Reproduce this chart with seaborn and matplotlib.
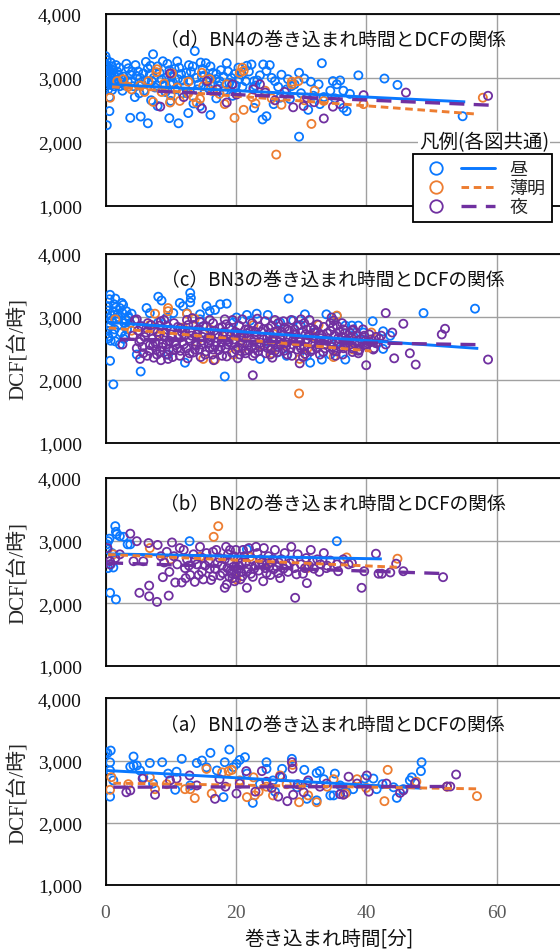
import matplotlib
matplotlib.use("Agg")
import matplotlib.pyplot as plt
from matplotlib.lines import Line2D
from matplotlib.legend_handler import HandlerTuple
from matplotlib.ticker import FuncFormatter, FixedLocator
import seaborn as sns
import pandas as pd

sns.set_style("white")
plt.rcParams["font.family"] = ["Noto Sans CJK JP", "DejaVu Sans"]

# ---------------- data ----------------
SERIES = ["昼", "薄明", "夜"]
COLORS = {"昼": "#0a78ff", "薄明": "#ED7D31", "夜": "#7030A0"}
PANEL_KEYS = ["d", "c", "b", "a"]
PANEL_TITLES = {
    "d": "（d）BN4の巻き込まれ時間とDCFの関係",
    "c": "（c）BN3の巻き込まれ時間とDCFの関係",
    "b": "（b）BN2の巻き込まれ時間とDCFの関係",
    "a": "（a）BN1の巻き込まれ時間とDCFの関係",
}
X_TICKS = [0, 20, 40, 60]
Y_TICKS = [1000, 2000, 3000, 4000]
X_LABEL = "巻き込まれ時間[分]"
Y_LABEL = "DCF[台/時]"
LEGEND_TITLE = "凡例(各図共通)"

# panel (d) BN4
D_DAY = [(0.0,3340),(0.2,3280),(0.1,3210),(0.4,3150),(0.0,3100),(0.3,3060),(0.6,3020),(0.1,2980),
         (0.5,2940),(0.2,2900),(0.0,2860),(0.4,2820),(0.8,3240),(1.0,3180),(1.2,3120),(0.9,3080),
         (1.4,3030),(1.1,2990),(0.7,2950),(1.5,2900),(1.3,2870),(1.8,3100),(2.0,3050),(1.7,2960),
         (2.3,3000),(2.5,2930),(0.6,2700),(0.6,2480),(0.2,2260),(1.0,2810),(2.1,3160),(2.8,3020),
         (3.0,2880),(2.6,2800),
         (3.5,3150),(3.8,3050),(4.0,2950),(4.3,2870),(4.6,3200),(5.0,3100),(5.3,3000),(5.6,2900),
         (5.9,2800),(6.2,3250),(6.5,3150),(6.8,3050),(7.1,2950),(7.3,3370),(7.6,2850),(8.0,3180),
         (8.3,3080),(8.6,2980),(8.9,2880),(9.2,2780),(9.5,3220),(9.8,3120),(10.1,3020),(10.4,2920),
         (10.7,2820),(11.0,3260),(11.3,3160),(11.6,3060),(11.9,2960),(12.2,2860),(12.5,2760),
         (12.8,3200),(13.1,3100),(13.7,3420),(14.0,3000),(14.3,2900),(14.6,3240),(14.9,3140),
         (15.2,3040),(15.5,2940),(15.8,2840),(16.1,3180),(16.5,3080),(16.9,2980),(17.3,2880),
         (17.7,3120),(18.1,3020),(18.6,3230),(19.0,2920),(19.4,2900),(19.8,3060),(20.4,3160),
         (20.5,2980),(21.0,2860),(21.7,3190),(22.4,3210),(22.8,2950),(22.7,2850),(23.7,3040),
         (3.8,2375),(5.4,2395),(6.5,2290),(9.8,2370),(11.2,2290),(12.7,2450),(16.1,2420),
         (24.1,2350),(24.7,2400),(22.8,2530),(25.8,2590),(31.1,2500),(32.9,2590),(4.5,2700),
         (7.0,2650),(10.0,2640),(13.5,2600),(17.0,2680),(19.5,2720),(8.0,2560),(14.5,2560),
         (24.2,3210),(25.2,3200),(24.7,3110),(26.8,2690),(27.8,2820),(28.3,2670),(29.7,3080),
         (31.5,2940),(31.9,2720),(32.7,2900),(33.2,3230),(34.5,2800),(34.9,2950),(35.2,2680),
         (35.5,2900),(36.5,2800),(36.5,2530),(37.0,2480),(38.8,3040),(42.8,2990),(44.8,2890),
         (54.8,2400),(29.7,2080),(26.0,2950),(27.0,3050),(28.5,2870),(30.0,2760),(33.5,2700),
         (36.0,2960),(37.5,2750),(30.5,2990),
         (0.3,3000),(0.5,3120),(0.2,3180),(0.9,2890),(1.6,3200),(2.2,2870),(3.2,3220),(3.4,2950),
         (4.1,3100),(4.8,3030),(5.2,2760),(5.8,3070),(6.1,2960),(6.9,3190),(7.4,3000),(7.9,2880),
         (8.8,3260),(9.4,3010),(9.9,2900),(10.6,3140),(11.1,2980),(11.8,2760),(12.4,3080),
         (12.9,2960),(13.4,3180),(14.1,2820),(14.8,3020),(15.4,3230),(15.9,3000),(16.4,2900),
         (17.0,3060),(17.5,2950),(18.2,2800),(18.8,3100),(19.3,3000),(20.0,2880),(20.9,3050),
         (21.5,2950),(22.0,3100),(23.0,2880),(23.3,2960),(25.5,3000),(26.5,2860),(28.0,2980),
         (29.0,2900)]
D_TWI = [(0.7,2690),(1.8,2950),(2.7,2980),(4.0,2820),(5.3,2880),(6.6,2950),(7.9,3135),(7.8,3090),
         (9.0,2910),(10.2,3070),(11.0,2850),(12.7,2940),(12.7,2760),(14.8,3080),(16.0,2980),
         (18.6,2900),(20.6,3080),(21.2,3110),(21.0,3160),(7.3,2625),(9.9,2615),(11.4,2640),
         (14.5,2670),(14.0,2610),(18.3,2590),(19.8,2375),(21.2,2500),(27.0,2580),(28.6,2900),
         (29.6,2950),(28.6,2940),(32.1,2800),(31.6,2280),(26.2,1800),(57.9,2690),(39.6,2590),
         (24.5,2800),(16.5,2800),(13.5,2700),(10.0,2730),(8.6,2780),(15.0,2870),(22.5,2700),
         (25.5,2680),(33.5,2640),(30.5,2650),(23.0,2600),(17.5,2750),(3.5,2860),(6.0,2780)]
D_NIGHT = [(9.9,3070),(8.4,2550),(14.8,2520),(15.6,2950),(17.1,2820),(18.6,2615),(20.1,2740),
           (22.7,2820),(23.7,2900),(28.8,2540),(30.4,2560),(33.5,2365),(34.9,2550),(39.6,2730),
           (46.1,2770),(58.7,2720),(30.9,2690),(36.0,2590),(26.0,2650),(12.0,2700),(19.5,2900),
           (24.5,2770),(27.5,2780),(32.0,2620)]

# panel (c) BN3
C_DAY = [(0.7,3350),(0.6,3280),(1.5,3290),(0.4,3170),(0.2,3040),(1.2,3090),(2.2,3140),(2.7,3190),
         (1.7,2960),(0.7,2850),(0.4,2690),(1.5,2610),(2.2,2560),(3.2,3090),(3.5,3010),(0.2,2780),
         (2.4,2750),(1.0,2940),(1.9,3050),(2.9,2900),(3.0,2700),(0.8,2620),(3.6,2980),(1.3,3200),
         (2.5,3220),(0.5,2900),(1.1,2730),(2.0,2870),(3.3,2800),(4.0,3050),
         (0.3,3100),(0.9,3020),(1.6,3150),(2.0,2990),(2.6,3060),(3.1,2950),(0.5,2660),(1.4,2800),
         (2.8,2650),(3.8,2900),
         (0.7,2300),(1.2,1925),(5.4,2130),(4.8,2400),(12.2,2270),(18.3,2050),(9.6,2400),
         (8.1,3320),(8.6,3260),(13.0,3380),(13.1,3300),(13.0,3230),(11.4,3220),(11.9,3170),
         (15.5,3170),(16.0,3090),(17.6,3200),(18.6,3210),(16.8,3110),(28.1,3290),(20.1,2990),
         (21.7,3030),(23.2,3050),(24.9,3030),(30.6,3040),(33.9,3040),(35.5,3010),(36.8,2860),
         (37.8,2860),(38.8,2860),(41.0,2930),(42.6,2770),(42.6,2490),(48.8,3060),(56.7,3130),
         (6.3,3140),(6.8,3060),(10.4,3060),(14.5,3040),(9.4,2990),(12.5,3060),
         (31.4,2270),(33.2,2320),(36.8,2320),(34.5,2400),(30.9,2380),(27.8,2380),(23.7,2330),
         (26.3,2430),(38.0,2700),(39.6,2750),(43.7,2700),(32.0,2750),(29.9,2870),(28.8,2940),
         (26.8,2910),(22.2,2940),(19.6,2910),(14.5,2960),(8.1,2910),(35.5,2600),(25.0,2600),
         (20.0,2700),(15.0,2750),(10.0,2800),(5.5,2850)]
C_TWI = [(7.6,3050),(9.6,3140),(9.6,3090),(12.5,3050),(1.5,2960),(13.7,2970),(35.5,3020),
         (32.7,2870),(40.8,2750),(29.7,1780),(29.8,2330),(35.0,2360),(25.5,2420),(16.8,2320),
         (15.0,2330),(19.6,2400),(27.3,2560),(23.7,2540),(20.6,2670),(18.6,2720),(16.0,2800),
         (11.9,2830),(8.4,2740),(6.8,2870),(31.0,2500),(37.5,2660),(31.9,2690),(25.8,2730),
         (22.7,2870),(4.0,2780),(14.0,2600),(28.0,2650),(33.5,2560),(38.0,2480),(21.0,2500)]
C_NIGHT = [(43.0,3060),(45.7,2890),(52.1,2810),(51.6,2720),(46.7,2420),(44.3,2340),(47.6,2240),
           (58.7,2320),(40.0,2230),(22.6,2070),(29.8,2260),(8.5,2310),(2.6,2560),(4.8,2960),
           (41.1,2480),(38.8,2420),(38.0,2800),(34.5,2900),(34.7,2990),(40.5,2600),(42.0,2650),
           (44.0,2750),(43.0,2560),
           (4.5,2950),(4.2,2700),(4.8,2500),(5.5,2850),(5.2,2600),(5.8,2420),(6.5,2900),(6.2,2750),
           (6.8,2550),(6.4,2380),(7.5,2800),(7.2,2650),(7.8,2480),(7.4,2350),(8.5,2930),(8.2,2700),
           (8.8,2580),(8.4,2450),(9.5,2850),(9.2,2750),(9.8,2620),(9.4,2400),(9.6,2330),
           (10.5,2900),(10.2,2680),(10.8,2550),(10.4,2470),(11.5,2820),(11.2,2720),(11.8,2600),
           (11.4,2380),(12.5,2950),(12.2,2780),(12.8,2650),(12.4,2500),(12.6,2340),(13.5,2870),
           (13.2,2700),(13.8,2560),(13.4,2430),(14.5,2920),(14.2,2800),(14.8,2620),(14.4,2480),
           (14.6,2360),(15.5,2850),(15.2,2740),(15.8,2590),(15.4,2450),(16.5,2900),(16.2,2680),
           (16.8,2540),(16.4,2400),(16.6,2310),(17.5,2820),(17.2,2720),(17.8,2600),(17.4,2470),
           (18.5,2880),(18.2,2760),(18.8,2640),(18.4,2500),(18.6,2370),(19.5,2950),(19.2,2700),
           (19.8,2580),(19.4,2430),(20.5,2860),(20.2,2740),(20.8,2620),(20.4,2510),(20.6,2400),
           (21.5,2800),(21.2,2680),(21.8,2550),(21.4,2460),(22.5,2900),(22.2,2770),(22.8,2640),
           (22.4,2520),(22.6,2380),(23.5,2840),(23.2,2710),(23.8,2590),(23.4,2450),(24.5,2930),
           (24.2,2800),(24.8,2660),(24.4,2540),(24.6,2420),(25.5,2860),(25.2,2730),(25.8,2610),
           (25.4,2480),(25.6,2350),(26.5,2900),(26.2,2770),(26.8,2650),(26.4,2520),(27.5,2830),
           (27.2,2700),(27.8,2590),(27.4,2460),(28.5,2950),(28.2,2780),(28.8,2630),(28.4,2500),
           (28.6,2380),(29.5,2860),(29.2,2720),(29.8,2600),(29.4,2480),(30.5,2900),(30.2,2760),
           (30.8,2640),(30.4,2530),(30.6,2410),(31.5,2820),(31.2,2700),(31.8,2580),(32.5,2880),
           (32.2,2750),(32.8,2620),(32.4,2500),(33.5,2840),(33.2,2700),(33.8,2560),(33.4,2440),
           (34.5,2780),(34.2,2650),(34.8,2520),(35.5,2860),(35.2,2700),(35.8,2580),(35.4,2450),
           (36.5,2800),(36.2,2680),(36.8,2560),(36.4,2400),(37.5,2750),(37.2,2620),(37.8,2500),
           (38.5,2700),(38.2,2580),(38.8,2460),(39.5,2800),(39.2,2650),(39.8,2550),(40.5,2720),
           (40.2,2580),(41.5,2680),(41.2,2500),
           (5.0,2780),(5.7,2520),(6.0,2680),(6.7,2460),(7.0,2870),(7.7,2580),(8.0,2760),(8.7,2520),
           (9.0,2680),(9.7,2480),(10.0,2800),(10.7,2600),(11.0,2500),(11.7,2760),(12.0,2560),
           (12.7,2870),(13.0,2620),(13.7,2480),(14.0,2720),(14.7,2560),(15.0,2850),(15.7,2660),
           (16.0,2500),(16.7,2780),(17.0,2600),(17.7,2520),(18.0,2700),(18.7,2560),(19.0,2820),
           (19.7,2640),(20.0,2480),(20.7,2700),(21.0,2580),(21.7,2740),(22.0,2470),(22.7,2600),
           (23.0,2760),(23.7,2520),(24.0,2680),(24.7,2580),(25.0,2820),(25.7,2660),(26.0,2460),
           (26.7,2600),(27.0,2760),(27.7,2530),(28.0,2680),(28.7,2560),(29.0,2800),(29.7,2650),
           (30.0,2500),(30.7,2720),(31.0,2600),(31.7,2480),(32.0,2800),(32.7,2560),(33.0,2660),
           (33.7,2500),(34.0,2740),(34.7,2600),(35.0,2460),(35.7,2660),(36.0,2520),(36.7,2740),
           (37.0,2580),(37.7,2680),(38.0,2520),(38.7,2620),(39.0,2480),(39.7,2700),(40.0,2560),
           (40.7,2640),(41.5,2580),(42.3,2700),(5.3,2330),(10.3,2360),(15.3,2400),(20.3,2340),
           (25.3,2400),(30.3,2360),(35.3,2380),(13.3,2980),(18.3,2960),(23.3,2970),(27.3,2930),
           (31.3,2950),(36.3,2900),
           (5.4,2640),(6.3,2820),(7.3,2540),(8.3,2860),(9.3,2560),(10.1,2720),(11.1,2840),
           (12.1,2700),(13.1,2780),(13.9,2540),(14.9,2680),(16.1,2620),(16.9,2720),(17.9,2840),
           (18.9,2600),(19.9,2760),(20.9,2680),(21.9,2800),(22.9,2500),(23.9,2760),(24.9,2500),
           (25.9,2760),(26.9,2560),(27.9,2800),(28.9,2720),(29.9,2540),(30.9,2800),(31.9,2660),
           (32.9,2720),(33.9,2620),(34.9,2840),(35.9,2760),(36.9,2620),(37.9,2780),(38.9,2560),
           (39.9,2620),(7.9,2400),(12.9,2420),(17.9,2380),(22.9,2420),(27.9,2400),(32.9,2400),
           (37.9,2440),(9.0,2950),(16.0,2950),(21.0,2960),(26.0,2950),(30.0,2960),(35.0,2940),
           (11.5,2460),(16.5,2480),(21.5,2420),(26.5,2440),(31.5,2450),(36.5,2500)]

# panel (b) BN2
B_DAY = [(1.5,3230),(0.4,2990),(0.6,3030),(1.7,3100),(2.2,3070),(2.8,3060),(1.6,3140),(3.4,2940),
         (3.8,2940),(0.4,2560),(1.2,2570),(0.7,2165),(1.6,2060),(12.9,2990),(21.7,2860),
         (35.5,2990),(0.3,2860),(1.0,2800),(0.2,2940),(0.8,2620)]
B_TWI = [(17.3,3230),(16.6,3060),(6.8,2880),(37.0,2730),(44.8,2710),(20.1,2380),(1.2,2780),
         (14.5,2740),(24.7,2660),(30.9,2560),(22.2,2740),(10.0,2700)]
B_NIGHT = [(3.8,3110),(6.6,2960),(5.2,2165),(6.7,2280),(6.7,2110),(7.9,2020),(9.7,2120),
           (8.8,2415),(29.1,2085),(39.3,2245),(41.5,2790),(51.8,2415),(45.7,2510),(44.6,2630),
           (43.7,2490),(41.9,2470),(42.4,2470),(39.7,2510),(35.7,2510),(37.3,2620),(33.9,2560),
           (30.9,2320),(24.2,2350),(21.7,2245),(18.3,2245),(18.6,2300),(13.7,2340),(11.7,2330),
           (10.7,2330),(0.3,2880),(0.7,2670),(0.7,2620),(2.2,2780),(4.3,2670),(5.8,2670),
           (4.8,2990),(10.2,2970),(11.4,2880),(9.4,2820),(8.0,2930),(1.5,2720),
           (12.0,2850),(12.5,2700),(12.2,2560),(13.0,2450),(13.5,2780),(14.0,2620),(14.5,2900),
           (14.8,2500),(15.5,2800),(15.8,2680),(16.0,2550),(16.5,2430),(17.0,2850),(17.5,2720),
           (17.8,2600),(18.0,2480),(18.5,2900),(18.8,2780),(19.0,2650),(19.2,2520),(19.5,2400),
           (19.8,2350),(20.0,2850),(20.3,2700),(20.5,2600),(20.8,2500),(21.0,2430),(21.3,2750),
           (21.5,2650),(21.8,2550),(22.0,2880),(22.3,2470),(22.5,2700),(23.0,2600),(23.3,2800),
           (23.5,2520),(24.0,2650),(24.3,2880),(24.5,2560),(25.0,2750),(25.3,2450),(25.5,2650),
           (26.0,2850),(26.3,2580),(26.5,2480),(27.0,2700),(27.5,2800),(27.8,2600),(28.0,2500),
           (28.5,2900),(28.8,2680),(29.0,2560),(29.5,2780),(30.0,2620),(30.3,2470),(30.8,2720),
           (31.2,2600),(31.5,2850),(32.0,2550),(32.5,2700),(33.0,2620),(33.5,2800),(34.5,2680),
           (35.5,2620),(36.5,2700),(37.8,2640),(11.0,2620),(10.5,2750),(9.8,2500),(9.0,2650),
           (8.5,2750),(19.3,2480),(19.6,2580),(20.0,2460),(19.0,2420),(18.7,2560),(20.7,2380),
           (22.6,2420),(17.2,2650),(23.8,2700),(26.8,2400),(25.8,2540),(15.0,2380),(16.2,2370),
           (12.8,2600),(13.8,2700),(14.3,2450),(15.3,2600),(16.8,2550),(17.6,2440),(18.3,2700),
           (19.7,2750),(20.2,2550),(20.9,2650),(21.6,2500),(22.8,2550),(23.6,2620),(24.7,2480),
           (25.7,2700),(26.6,2650),(27.3,2550),(28.3,2640),(29.3,2460),(30.6,2560),(31.8,2680),
           (32.8,2500),(34.0,2600),(12.3,2400),(14.9,2720),(16.5,2820),(19.1,2850),(21.1,2850),
           (23.1,2900),(25.1,2580)]

# panel (a) BN1
A_DAY = [(0.0,3134),(0.3,3120),(0.8,3160),(0.7,2970),(0.7,2840),(0.7,2420),(4.3,3064),(3.8,2900),
         (4.3,2920),(4.8,2920),(6.8,2960),(8.7,2973),(11.7,3027),(14.0,2960),(14.8,3000),
         (16.1,3123),(19.0,3177),(18.3,2973),(20.6,3010),(21.4,3054),(20.1,2947),(19.6,2893),
         (24.7,2973),(24.7,2866),(27.1,2866),(28.6,3027),(30.5,2850),(32.9,2830),(32.4,2800),
         (35.2,2790),(39.8,2710),(41.1,2710),(48.5,2973),(48.4,2830),(47.0,2730),(46.7,2680),
         (44.2,2570),(44.7,2400),(45.7,2540),(22.6,2320),(18.1,2412),(10.7,2530),(7.3,2630),
         (9.6,2790),(10.9,2820),(15.5,2890),(17.1,2840),(21.7,2790),(27.1,2730),(30.9,2385),
         (32.4,2360),(34.5,2440),(35.0,2440),(37.0,2490),(38.0,2540),(41.6,2540),(29.4,2570),
         (23.7,2620),(25.7,2680),(1.2,2680),(5.3,2840),(5.8,2730),(13.0,2600),(26.0,2500),
         (31.0,2650),(36.0,2600),(42.5,2620),(33.5,2700)]
A_TWI = [(0.9,2733),(0.7,2530),(6.8,2730),(7.6,2540),(12.2,2540),(13.0,2540),(13.7,2396),
         (16.3,2470),(15.5,2866),(17.9,2810),(18.9,2830),(19.4,2850),(21.7,2412),(22.9,2440),
         (25.7,2440),(26.8,2760),(28.7,2930),(29.7,2330),(32.4,2330),(31.1,2440),(36.8,2470),
         (38.6,2700),(43.3,2850),(42.8,2347),(57.0,2428),(52.4,2580),(47.7,2660),(24.7,2580),
         (20.6,2680),(22.7,2730),(27.8,2620),(34.0,2580),(35.0,2700),(9.4,2620),(3.5,2620),
         (30.0,2600),(40.0,2560),(23.5,2500)]
A_NIGHT = [(3.2,2490),(3.8,2520),(5.7,2710),(7.6,2450),(9.9,2680),(10.9,2710),(12.9,2760),
           (16.8,2385),(18.4,2580),(20.1,2470),(21.6,2830),(24.0,2830),(23.0,2500),(26.5,2420),
           (27.9,2347),(28.6,2973),(28.7,2870),(28.8,2450),(30.4,2490),(31.1,2680),(32.9,2580),
           (36.0,2460),(36.5,2450),(37.3,2740),(40.1,2760),(40.4,2500),(45.2,2480),(45.7,2520),
           (47.5,2640),(52.4,2583),(52.9,2583),(53.8,2775),(24.7,2660),(20.6,2630),(26.8,2740),
           (33.9,2630),(38.6,2630),(43.1,2630),(14.0,2600),(17.5,2700),(25.5,2560),(29.5,2620)]

# trend lines: (x_start, x_end), (y_start, y_end)
TREND_X = {
    "d": {"昼": (0.0, 55.2), "薄明": (1.0, 57.2), "夜": (8.0, 59.0)},
    "c": {"昼": (0.2, 57.2), "薄明": (0.5, 40.8), "夜": (2.2, 58.0)},
    "b": {"昼": (0.4, 42.4), "薄明": (0.4, 44.7), "夜": (0.4, 51.8)},
    "a": {"昼": (0.2, 48.5), "薄明": (1.2, 57.2), "夜": (1.2, 53.6)},
}
TREND_Y = {
    "d": {"昼": (2900, 2625), "薄明": (2860, 2432), "夜": (2790, 2573)},
    "c": {"昼": (2915, 2497), "薄明": (2825, 2455), "夜": (2645, 2556)},
    "b": {"昼": (2787, 2707), "薄明": (2777, 2574), "夜": (2644, 2473)},
    "a": {"昼": (2840, 2555), "薄明": (2636, 2545), "夜": (2572, 2583)},
}

POINTS = {
    "d": {"昼": D_DAY, "薄明": D_TWI, "夜": D_NIGHT},
    "c": {"昼": C_DAY, "薄明": C_TWI, "夜": C_NIGHT},
    "b": {"昼": B_DAY, "薄明": B_TWI, "夜": B_NIGHT},
    "a": {"昼": A_DAY, "薄明": A_TWI, "夜": A_NIGHT},
}

# ---------------- styles ----------------
LINE_STYLE = {
    "昼": dict(ls="-", lw=2.1),
    "薄明": dict(ls=(0, (2.6, 1.6)), lw=2.1),
    "夜": dict(ls=(0, (4.5, 2.8)), lw=2.4),
}
SERIF = ["Liberation Serif", "Noto Sans CJK JP"]
CJK = ["Noto Sans CJK JP", "DejaVu Sans"]

W, H = 560, 953
fig = plt.figure(figsize=(W / 100, H / 100), dpi=100)

LEFT = 105.5
XMAX = (W - LEFT) / 6.517
PANEL_PX = {"d": (15, 206.7), "c": (255, 443.5), "b": (479, 666.7), "a": (699.3, 886)}

axes = {}
for key in PANEL_KEYS:
    top, bot = PANEL_PX[key]
    ax = fig.add_axes([LEFT / W, 1 - bot / H, 1 - LEFT / W, (bot - top) / H])
    axes[key] = ax
    ax.set_xlim(0, XMAX)
    ax.set_ylim(1000, 4000)
    ax.xaxis.set_major_locator(FixedLocator(X_TICKS))
    ax.yaxis.set_major_locator(FixedLocator(Y_TICKS))
    ax.yaxis.set_major_formatter(FuncFormatter(lambda v, p: f"{int(v):,}"))
    ax.grid(True, color="#a0a0a0", lw=1.0)
    ax.set_axisbelow(True)
    for side in ["left", "top", "bottom"]:
        ax.spines[side].set_visible(True)
        ax.spines[side].set_color("black")
        ax.spines[side].set_linewidth(1.3)
    ax.spines["right"].set_visible(False)
    ax.tick_params(axis="y", length=0, pad=17, labelsize=14, labelcolor="#111111")
    for lab in ax.get_yticklabels():
        lab.set_fontfamily(SERIF)

    for s in SERIES:
        df = pd.DataFrame(POINTS[key][s], columns=["x", "y"])
        sns.scatterplot(data=df, x="x", y="y", ax=ax, marker="o", s=34,
                        color=COLORS[s], facecolor="none", edgecolor=COLORS[s],
                        linewidth=1.3, zorder=3, legend=False)
    for s in SERIES:
        ax.plot(TREND_X[key][s], TREND_Y[key][s], color=COLORS[s], zorder=4,
                solid_capstyle="butt", dash_capstyle="butt", **LINE_STYLE[s])

    ax.text(0.5, 1 - 25 / (bot - top), PANEL_TITLES[key], transform=ax.transAxes,
            ha="center", va="center", fontsize=13.5, family=CJK, color="#111111", zorder=6)
    ax.set_xlabel("")
    if key == "d":
        ax.set_ylabel("")
    else:
        ax.set_ylabel(Y_LABEL, family=SERIF, fontsize=15)
        ax.yaxis.set_label_coords(-(LEFT - 29) / (W - LEFT), 0.5)
    if key != "a":
        ax.tick_params(axis="x", length=0, labelbottom=False)
    else:
        ax.tick_params(axis="x", length=6, width=1.0, color="#a0a0a0", pad=8,
                       labelsize=14, labelcolor="#595959", direction="out")
        for lab in ax.get_xticklabels():
            lab.set_fontfamily(SERIF)
        ax.set_xlabel(X_LABEL, family=CJK, fontsize=14, color="#111111")
        ax.xaxis.set_label_coords((328.5 - LEFT) / (W - LEFT), -(929 - bot) / (bot - top))

# legend (common to all panels)
handles = []
for s in SERIES:
    m = Line2D([], [], marker="o", ls="none", mfc="none", mec=COLORS[s], ms=9, mew=1.3)
    l = Line2D([], [], color=COLORS[s], **LINE_STYLE[s])
    handles.append((m, l))
leg = fig.legend(handles, SERIES, handler_map={tuple: HandlerTuple(ndivide=None, pad=0.4)},
                 loc="upper left", bbox_to_anchor=(412.7 / W, 1 - 155 / H),
                 frameon=True, fancybox=False, framealpha=1, edgecolor="black",
                 facecolor="white", borderaxespad=0, borderpad=0.35, labelspacing=0.05,
                 handlelength=4.2, handletextpad=0.8, prop={"family": CJK, "size": 13})
leg.get_frame().set_linewidth(1.3)
leg.set_zorder(10)
fig.text(484 / W, 1 - 143 / H, LEGEND_TITLE, ha="center", va="center", fontsize=14,
         family=CJK, color="#111111", zorder=11,
         bbox=dict(facecolor="white", edgecolor="none", pad=0.5))

fig.savefig("out.png", dpi=100)
